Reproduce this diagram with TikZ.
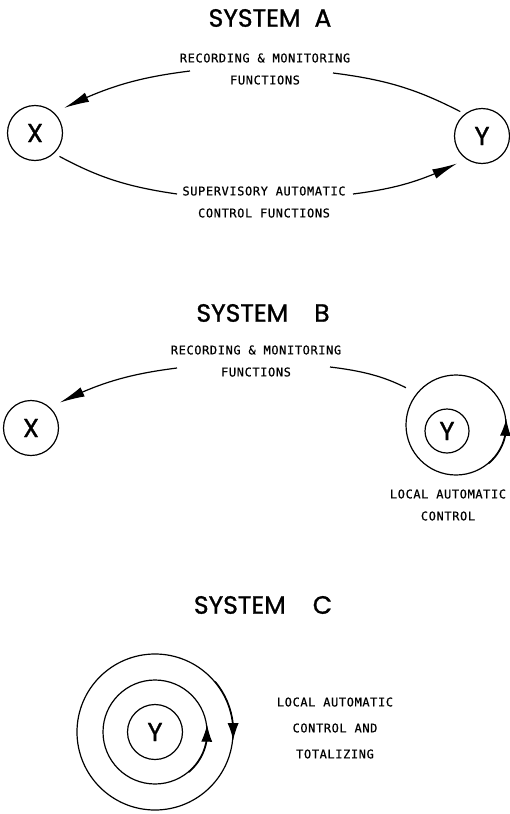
\documentclass[tikz,border=0pt]{standalone}
\usepackage{fontspec}
\usepackage{tikz}
\usetikzlibrary{arrows.meta, bending}
\newfontfamily\titlefont[FakeBold=1.2]{Poppins}
\newfontfamily\letterfont[LetterSpace=5, FakeBold=0.6]{DejaVu Sans Mono}

\begin{document}
\begin{tikzpicture}[x=1pt, y=1pt,
    systitle/.style={font=\titlefont\fontsize{25}{30}\selectfont},
    station/.style={draw, circle, line width=1.2pt, inner sep=0pt, minimum size=55pt,
      font=\titlefont\fontsize{26}{30}\selectfont},
    loop/.style={draw, circle, line width=1.2pt, inner sep=0pt},
    lettering/.style={font=\letterfont\fontsize{12}{22}\selectfont, align=center},
    flow/.style={line width=1.2pt},
    tip/.style={flow, -{Latex[length=25pt, width=10pt]}},
    looptip/.style={flow, -{Latex[length=17pt, width=11pt, flex]}}]
  \useasboundingbox (0,0) rectangle (510,-814);

  \node[systitle] (titleA) at (270,-18) {SYSTEM\hspace{14pt}A};
  \node[station] (xA) at (35,-133) {X};
  \node[station] (yA) at (482,-136) {Y};
  \node[lettering] (recA) at (265,-69) {RECORDING \& MONITORING\\FUNCTIONS};
  \node[lettering] (supA) at (264,-202) {SUPERVISORY AUTOMATIC\\CONTROL FUNCTIONS};
  \coordinate (recAin) at (333,-73);
  \coordinate (recAout) at (190,-71);
  \coordinate (supAin) at (177,-194);
  \coordinate (supAout) at (353,-194);
  \draw[flow, shorten <=5pt] (yA.128) to[bend right=10] (recAin);
  \draw[tip, shorten >=11pt] (recAout) to[bend right=10] (xA.46);
  \draw[flow, shorten <=6pt] (xA.-47) to[bend right=10] (supAin);
  \draw[tip, shorten >=10pt] (supAout) to[bend right=10] (yA.235);

  \node[systitle] (titleB) at (263,-313) {SYSTEM\hspace{26pt}B};
  \node[station] (xB) at (31,-428) {X};
  \node[loop, minimum size=100pt] (loopB) at (456,-425) {};
  \node[station, minimum size=44pt] (yB) at (447,-431) {Y};
  \node[lettering] (recB) at (256,-361) {RECORDING \& MONITORING\\FUNCTIONS};
  \node[lettering] (locB) at (448,-505) {LOCAL AUTOMATIC\\CONTROL};
  \coordinate (recBin) at (330,-367);
  \coordinate (recBout) at (177,-368);
  \draw[flow, shorten <=12pt] (loopB.141) to[bend right=10] (recBin);
  \draw[tip, shorten >=11pt] (recBout) to[bend right=10] (xB.47);
  \draw[looptip] (loopB.-50) arc[start angle=-50, end angle=7, radius=50.6pt];

  \node[systitle] (titleC) at (263,-605) {SYSTEM\hspace{27pt}C};
  \node[loop, minimum size=156pt] (outerC) at (155,-732) {};
  \node[loop, minimum size=104pt] (midC) at (155,-732) {};
  \node[station] (yC) at (155,-732) {Y};
  \node[lettering, font=\letterfont\fontsize{12}{26}\selectfont] (locC) at (335,-728)
    {LOCAL AUTOMATIC\\CONTROL AND\\TOTALIZING};
  \draw[looptip] (midC.-50) arc[start angle=-50, end angle=8, radius=52.6pt];
  \draw[looptip] (outerC.40) arc[start angle=40, end angle=-6, radius=78.6pt];
\end{tikzpicture}
\end{document}
